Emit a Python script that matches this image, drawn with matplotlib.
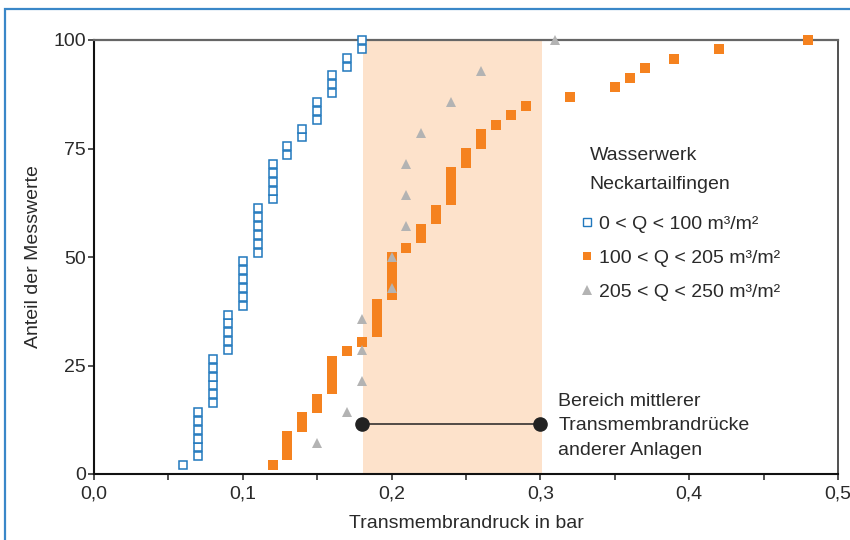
import numpy as np
import matplotlib.pyplot as plt
from matplotlib.lines import Line2D
from matplotlib.patches import Rectangle

plt.rcParams['font.family'] = ['Liberation Sans', 'DejaVu Sans']
plt.rcParams['font.size'] = 14
txt_color = '#2a2a2a'

# measured transmembrane pressures (bar) and how many readings sit at each value
blue_x = [0.06, 0.07, 0.08, 0.09, 0.10, 0.11, 0.12, 0.13, 0.14, 0.15, 0.16, 0.17, 0.18]
blue_n = [1, 6, 6, 5, 6, 6, 5, 2, 2, 3, 3, 2, 2]
orange_x = [0.12, 0.13, 0.14, 0.15, 0.16, 0.17, 0.18, 0.19, 0.20, 0.21, 0.22, 0.23, 0.24,
            0.25, 0.26, 0.27, 0.28, 0.29, 0.32, 0.35, 0.36, 0.37, 0.39, 0.42, 0.48]
orange_n = [1, 3, 2, 2, 4, 1, 1, 4, 5, 1, 2, 2, 4, 2, 2, 1, 1, 1, 1, 1, 1, 1, 1, 1, 1]
gray_x = [0.15, 0.17, 0.18, 0.20, 0.21, 0.22, 0.24, 0.26, 0.31]
gray_n = [1, 1, 3, 2, 3, 1, 1, 1, 1]

labels = ['0 < Q < 100 m³/m²', '100 < Q < 205 m³/m²', '205 < Q < 250 m³/m²']

# range of mean transmembrane pressures of other plants
band = [0.181, 0.301]
range_x = [0.18, 0.30]
range_y = 11.5

xticks = [0.0, 0.1, 0.2, 0.3, 0.4, 0.5]
xticklabels = ['0,0', '0,1', '0,2', '0,3', '0,4', '0,5']
yticks = [0, 25, 50, 75, 100]

c_blue = '#2178bd'
c_orange = '#f5821f'
c_gray = '#b3b3b3'
c_band = '#fde2cb'


def cdf(xs, ns):
    x = np.repeat(xs, ns)
    y = np.arange(1, len(x) + 1) / len(x) * 100
    return x, y


fig = plt.figure(figsize=(8.5, 5.4), dpi=100)
ax = fig.add_axes([94 / 850, 1 - 474 / 540, 744 / 850, 434 / 540])

ax.axvspan(band[0], band[1], color=c_band, lw=0, zorder=0)

x, y = cdf(orange_x, orange_n)
ax.plot(x, y, 's', ms=7.6, color=c_orange, mew=0, zorder=3, clip_on=False)
x, y = cdf(gray_x, gray_n)
ax.plot(x, y, '^', ms=7.6, color=c_gray, mew=0, zorder=4, clip_on=False)
x, y = cdf(blue_x, blue_n)
ax.plot(x, y, 's', ms=5.9, mfc='white', mec=c_blue, mew=1.1, zorder=5, clip_on=False)

ax.plot(range_x, [range_y, range_y], '-', color='#222222', lw=1.1, zorder=6)
ax.plot(range_x, [range_y, range_y], 'o', color='#222222', ms=9.5, zorder=6)
ax.text(0.312, range_y - 0.4, 'Bereich mittlerer\nTransmembrandrücke\nanderer Anlagen',
        ha='left', va='center', linespacing=1.6, color=txt_color)

ax.text(0.333, 73.5, 'Wasserwerk', ha='left', va='center', color=txt_color)
ax.text(0.333, 66.6, 'Neckartailfingen', ha='left', va='center', color=txt_color)

handles = [
    Line2D([], [], ls='none', marker='s', ms=5.2, mfc='white', mec=c_blue, mew=1.0),
    Line2D([], [], ls='none', marker='s', ms=6.2, color=c_orange, mew=0),
    Line2D([], [], ls='none', marker='^', ms=6.5, color=c_gray, mew=0),
]
leg = fig.legend(handles, labels, loc='center left', bbox_to_anchor=(581 / 850, 1 - 258 / 540),
                 frameon=False, handlelength=0.6, handletextpad=0.33, labelspacing=0.85,
                 borderpad=0, borderaxespad=0, fontsize=14)
for t in leg.get_texts():
    t.set_color(txt_color)

ax.set_xlim(0, 0.5)
ax.set_ylim(0, 100)
ax.set_xticks(xticks, xticklabels)
ax.set_xticks(np.arange(0.05, 0.5, 0.1), minor=True)
ax.set_yticks(yticks)
ax.tick_params(axis='both', which='both', direction='out', length=4, width=1.1,
               colors='#222222', labelcolor=txt_color, labelsize=14)
ax.tick_params(axis='x', pad=4)
ax.tick_params(axis='y', pad=2)

ax.set_xlabel('Transmembrandruck in bar', color=txt_color, fontsize=14, labelpad=9)
ax.set_ylabel('Anteil der Messwerte', color=txt_color, fontsize=14, labelpad=8)

ax.spines['left'].set_color('#111111')
ax.spines['bottom'].set_color('#111111')
ax.spines['left'].set_linewidth(1.5)
ax.spines['bottom'].set_linewidth(1.5)
ax.spines['top'].set_color('#666666')
ax.spines['top'].set_linewidth(1.6)
ax.spines['right'].set_color('#333333')
ax.spines['right'].set_linewidth(1.2)

# blue outer frame, cut off at right and bottom like the source page
fig.patches.append(Rectangle((5 / 850, -0.2), 1.2, 1.2 - 9 / 540, transform=fig.transFigure,
                             fill=False, ec='#3a87c8', lw=1.6, zorder=0))

fig.savefig('out.png', dpi=100)
